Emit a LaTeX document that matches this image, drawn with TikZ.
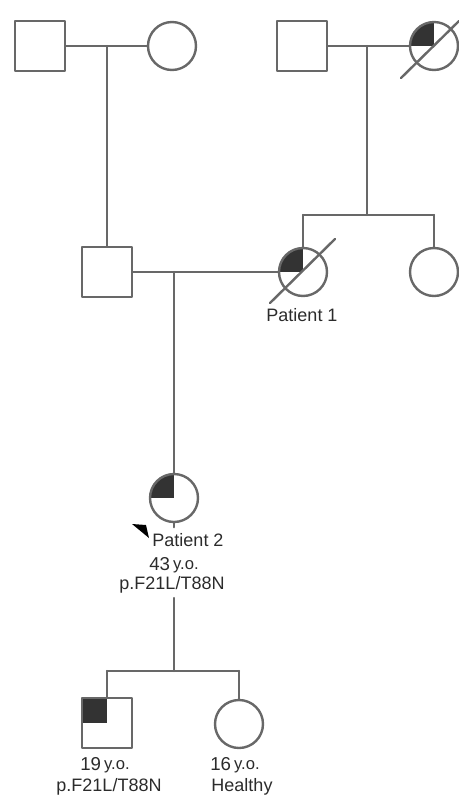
\documentclass[tikz,border=0pt]{standalone}
\usepackage{fontspec}
\setmainfont{Liberation Sans}
\definecolor{pedline}{HTML}{686868}
\definecolor{pedfill}{HTML}{333333}
\definecolor{pedtext}{HTML}{2B2B2B}
\tikzset{
  rel/.style={draw=pedline, line width=1.8pt},
  male/.style={rectangle, draw=pedline, line width=1.8pt, fill=white, minimum size=37.5pt, inner sep=0pt},
  female/.style={circle, draw=pedline, line width=1.8pt, fill=white, minimum size=36pt, inner sep=0pt},
  affected/.style={path picture={\fill[pedfill] (path picture bounding box.center) rectangle (path picture bounding box.north west);}},
  lbl/.style={text=pedtext, inner sep=0pt, font=\fontsize{13.5}{15}\selectfont},
}
\newcommand{\yo}[1]{{\fontsize{14}{16}\selectfont #1}\,\raisebox{1pt}{\fontsize{12.5}{14}\selectfont y.o.}}
\begin{document}
\begin{tikzpicture}[x=0.75pt, y=-0.75pt, line cap=round, line join=round]
  \useasboundingbox (0,0) rectangle (459,797);

  % Generation I
  \node[male] (i1) at (40,46) {};
  \node[female] (i2) at (172,46) {};
  \node[male] (i3) at (302,46) {};
  \node[female, affected] (i4) at (434,46) {};
  \coordinate (m1) at (107,46);
  \coordinate (m2) at (367,46);
  \coordinate (s2) at (367,215);

  % Generation II
  \node[male] (ii1) at (107,272) {};
  \node[female, affected] (ii2) at (303,272) {};
  \node[female] (ii3) at (434,272) {};
  \coordinate (m3) at (174,272);

  % Generation III
  \node[female, affected] (iii1) at (174,498) {};
  \coordinate (d3) at (174,598);
  \coordinate (s3) at (174,671);

  % Generation IV
  \node[male, affected] (iv1) at (107,723) {};
  \node[female] (iv2) at (239,724) {};

  % Lines of descent
  \draw[rel] (i1) -- (i2);
  \draw[rel] (m1) -- (ii1.north);
  \draw[rel] (i3) -- (i4);
  \draw[rel] (m2) -- (s2);
  \draw[rel] (ii2 |- s2) -- (ii3 |- s2);
  \draw[rel] (ii2 |- s2) -- (ii2.north);
  \draw[rel] (ii3 |- s2) -- (ii3.north);
  \draw[rel] (ii1) -- (ii2);
  \draw[rel] (m3) -- (iii1.north);
  \draw[rel] (iii1.south) -- ++(0,4);
  \draw[rel] (d3) -- (s3);
  \draw[rel] (iv1 |- s3) -- (iv2 |- s3);
  \draw[rel] (iv1 |- s3) -- (iv1.north);
  \draw[rel] (iv2 |- s3) -- (iv2.north);

  % Deceased
  \draw[rel] (i4.center) ++(-33,32) -- ++(58,-57);
  \draw[rel] (ii2.center) ++(-33,31) -- ++(65,-64);

  % Proband
  \fill[black] (132,524) -- (146,525) -- (149,538) -- cycle;

  % Labels
  \node[lbl] (lp1) at (302,315) {Patient 1};
  \node[lbl] (lp2) at (188,540) {Patient 2};
  \node[lbl] (lage3) at (174,565) {\yo{43}};
  \node[lbl] (lmut3) at (172,585) {p.F21L/T88N};
  \node[lbl] (lage4a) at (105,765) {\yo{19}};
  \node[lbl] (lmut4a) at (109,787) {p.F21L/T88N};
  \node[lbl] (lage4b) at (235,765) {\yo{16}};
  \node[lbl] (lh4b) at (242,787) {Healthy};
\end{tikzpicture}
\end{document}
